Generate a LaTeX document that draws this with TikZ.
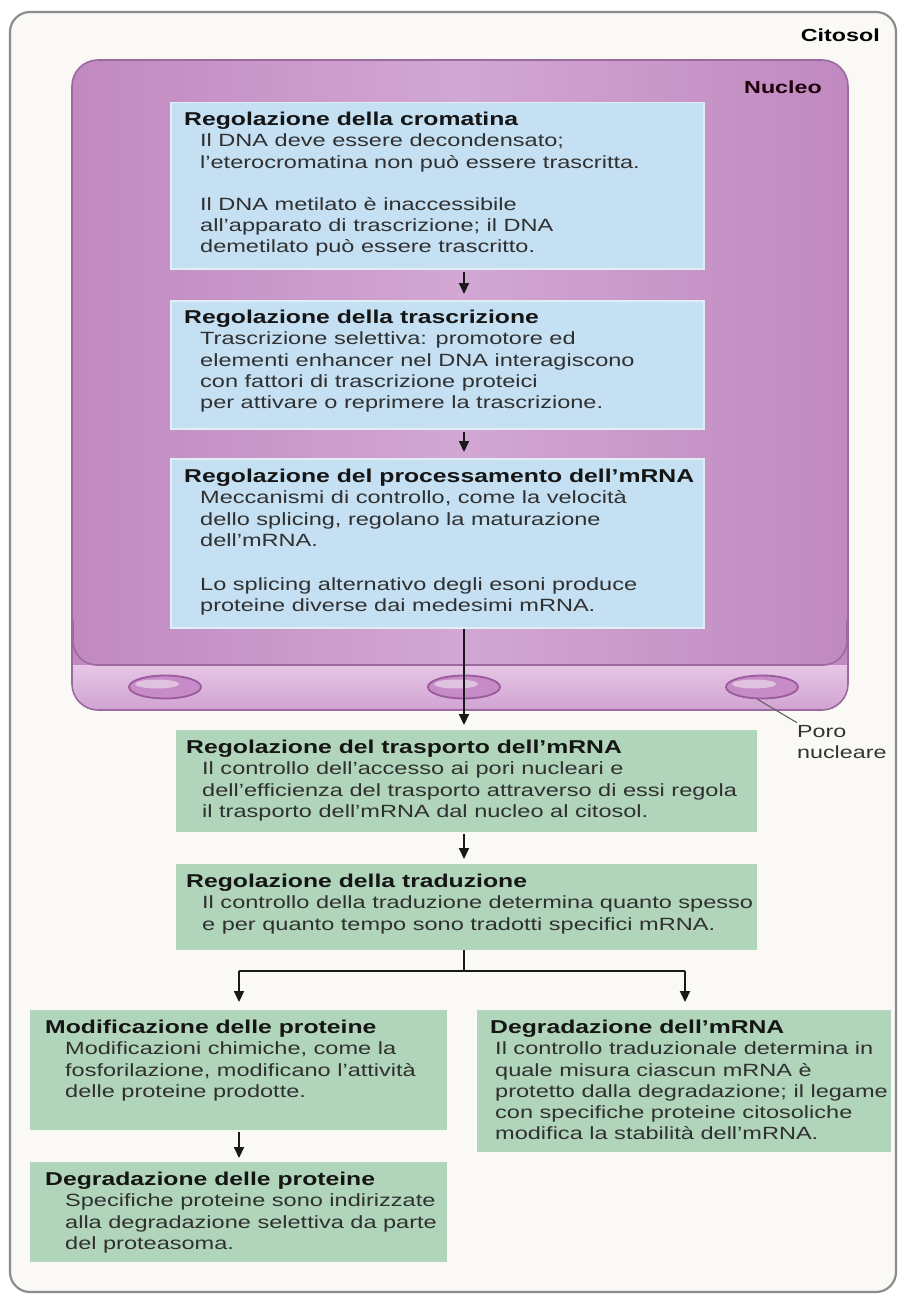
\documentclass[tikz,border=0pt]{standalone}
\usepackage{fontspec}
\setmainfont{Liberation Sans}[FakeStretch=1.33]
\usetikzlibrary{arrows.meta,shapes.geometric}
\definecolor{framefill}{HTML}{FAF9F6}
\definecolor{framedraw}{HTML}{8C8C8C}
\definecolor{nucA}{HTML}{C089C0}
\definecolor{nucB}{HTML}{D2A7D3}
\definecolor{nucedge}{HTML}{9C6A9E}
\definecolor{bandA}{HTML}{E6C6E6}
\definecolor{bandB}{HTML}{CC9BCD}
\definecolor{poreedge}{HTML}{9A5A9C}
\definecolor{porefill}{HTML}{C78BC8}
\definecolor{bluefill}{HTML}{C4E0F2}
\definecolor{blueedge}{HTML}{E2EEF6}
\definecolor{greenfill}{HTML}{B1D5BA}
\definecolor{titlecol}{HTML}{151515}
\definecolor{bodycol}{HTML}{303030}
\newcommand{\bodyfont}{\fontsize{17.7}{21.2}\selectfont}
\newcommand{\ttl}[1]{{\fontsize{18.6}{21.2}\selectfont\bfseries\color{titlecol}#1}}
\newcommand{\ind}{\hspace*{16pt}}
\newcommand{\indb}{\hspace*{20pt}}
\newcommand{\indc}{\hspace*{5pt}}
\begin{document}
\begin{tikzpicture}[x=1pt,y=-1pt,
  bluebox/.style={rectangle,draw=blueedge,line width=1.5pt,fill=bluefill,inner sep=0pt,anchor=north west},
  greenbox/.style={rectangle,fill=greenfill,inner sep=0pt,anchor=north west},
  txt/.style={anchor=north west,inner sep=0pt,align=left,font=\bodyfont,text=bodycol},
  lbl/.style={inner sep=0pt,font=\fontsize{17.5}{21}\selectfont\bfseries},
  arr/.style={line width=2pt,draw=black!90,-{Triangle[length=11pt,width=10pt]}},
  pore/.style={ellipse,draw=poreedge,line width=1.8pt,fill=porefill,minimum width=72pt,minimum height=23pt,inner sep=0pt}
]
\useasboundingbox (0,0) rectangle (904,1297);
\fill[white] (0,0) rectangle (904,1297);
% cell frame
\draw[framedraw,fill=framefill,line width=2.2pt,rounded corners=20pt] (10,12) rectangle (896,1292);
\node[lbl,anchor=east] (cito) at (880,35) {Citosol};
% nucleus
\shade[rounded corners=26pt,left color=nucA,right color=nucA,middle color=nucB] (72,60) rectangle (848,710);
\begin{scope}
  \clip[rounded corners=26pt] (72,60) rectangle (848,710);
  \shade[top color=bandA,bottom color=bandB] (60,665) rectangle (860,720);
  \draw[nucedge,line width=1.6pt,rounded corners=24pt] (73,620) -- (73,665) -- (847,665) -- (847,620);
\end{scope}
\draw[nucedge,line width=1.6pt,rounded corners=26pt] (72,60) rectangle (848,710);
\node[lbl,anchor=east,text=black!85!purple] (nucl) at (822,87) {Nucleo};
% pores
\node[pore] (p1) at (165,687) {};
\node[pore] (p2) at (464,687) {};
\node[pore] (p3) at (762,687) {};
\foreach \p in {p1,p2,p3}{\fill[nucB!70!white] ([xshift=-8pt,yshift=3pt]\p.center) ellipse [x radius=22pt,y radius=4.5pt];}
\node[txt,font=\fontsize{17.5}{21}\selectfont,text=black!80] (poro) at (797,722.7) {\strut Poro\\nucleare};
\draw[black!65,line width=1pt] (p3.-110) -- (poro.north west);
% blue boxes
\node[bluebox,minimum width=533pt,minimum height=166pt] (b1) at (170,102) {};
\node[bluebox,minimum width=533pt,minimum height=128pt] (b2) at (170,300) {};
\node[bluebox,minimum width=533pt,minimum height=169pt] (b3) at (170,458) {};
\node[txt] (b1t) at (184,110.7) {\strut\ttl{Regolazione della cromatina}\\
\ind Il DNA deve essere decondensato;\\
\ind l’eterocromatina non può essere trascritta.\\[21.2pt]
\ind Il DNA metilato è inaccessibile\\
\ind all’apparato di trascrizione; il DNA\\
\ind demetilato può essere trascritto.};
\node[txt] (b2t) at (184,308.7) {\strut\ttl{Regolazione della trascrizione}\\
\ind Trascrizione selettiva: promotore ed\\
\ind elementi enhancer nel DNA interagiscono\\
\ind con fattori di trascrizione proteici\\
\ind per attivare o reprimere la trascrizione.};
\node[txt] (b3t) at (184,467.7) {\strut\ttl{Regolazione del processamento dell’mRNA}\\
\ind Meccanismi di controllo, come la velocità\\
\ind dello splicing, regolano la maturazione\\
\ind dell’mRNA.\\[23pt]
\ind Lo splicing alternativo degli esoni produce\\
\ind proteine diverse dai medesimi mRNA.};
% green boxes
\node[greenbox,minimum width=581pt,minimum height=102pt] (g1) at (176,730) {};
\node[greenbox,minimum width=581pt,minimum height=86pt] (g2) at (176,864) {};
\node[greenbox,minimum width=417pt,minimum height=120pt] (m1) at (30,1010) {};
\node[greenbox,minimum width=414pt,minimum height=142pt] (d1) at (477,1010) {};
\node[greenbox,minimum width=417pt,minimum height=100pt] (q1) at (30,1162) {};
\node[txt] (g1t) at (186,738.7) {\strut\ttl{Regolazione del trasporto dell’mRNA}\\
\ind Il controllo dell’accesso ai pori nucleari e\\
\ind dell’efficienza del trasporto attraverso di essi regola\\
\ind il trasporto dell’mRNA dal nucleo al citosol.};
\node[txt] (g2t) at (186,872.7) {\strut\ttl{Regolazione della traduzione}\\
\ind Il controllo della traduzione determina quanto spesso\\
\ind e per quanto tempo sono tradotti specifici mRNA.};
\node[txt] (m1t) at (45,1018.7) {\strut\ttl{Modificazione delle proteine}\\
\indb Modificazioni chimiche, come la\\
\indb fosforilazione, modificano l’attività\\
\indb delle proteine prodotte.};
\node[txt] (d1t) at (490,1018.7) {\strut\ttl{Degradazione dell’mRNA}\\
\indc Il controllo traduzionale determina in\\
\indc quale misura ciascun mRNA è\\
\indc protetto dalla degradazione; il legame\\
\indc con specifiche proteine citosoliche\\
\indc modifica la stabilità dell’mRNA.};
\node[txt] (q1t) at (45,1170.7) {\strut\ttl{Degradazione delle proteine}\\
\indb Specifiche proteine sono indirizzate\\
\indb alla degradazione selettiva da parte\\
\indb del proteasoma.};
% arrows
\coordinate (ax) at (464,0);
\coordinate (lx) at (239,0);
\coordinate (rx) at (685,0);
\coordinate (fork) at (464,971);
\draw[arr,shorten >=6pt,shorten <=2pt] (b1.south -| ax) -- (b2.north -| ax);
\draw[arr,shorten >=6pt,shorten <=2pt] (b2.south -| ax) -- (b3.north -| ax);
\draw[arr,shorten >=5pt] (b3.south -| ax) -- (g1.north -| ax);
\draw[arr,shorten >=5pt,shorten <=2pt] (g1.south -| ax) -- (g2.north -| ax);
\draw[line width=2pt,black!90] (g2.south -| ax) -- (fork);
\draw[line width=2pt,black!90] (fork -| lx) -- (fork -| rx);
\draw[arr,shorten >=8pt] (fork -| lx) -- (m1.north -| lx);
\draw[arr,shorten >=8pt] (fork -| rx) -- (d1.north -| rx);
\draw[arr,shorten >=4pt,shorten <=2pt] (m1.south -| lx) -- (q1.north -| lx);
\end{tikzpicture}
\end{document}
